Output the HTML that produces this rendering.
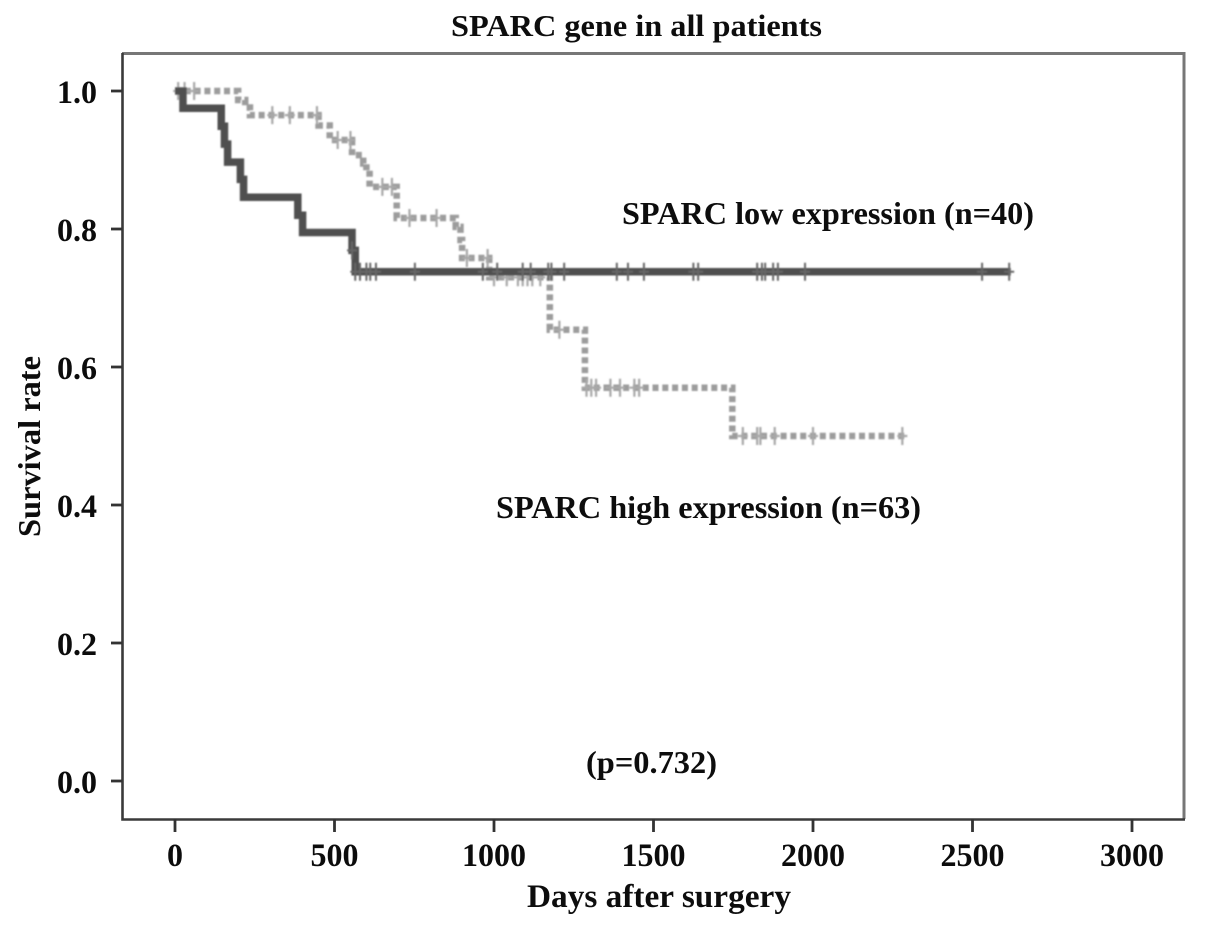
<!DOCTYPE html>
<html lang="en">
<head>
<meta charset="utf-8">
<title>SPARC gene in all patients</title>
<style>
html,body{margin:0;padding:0;background:#fff;}
svg{display:block;}
text{font-family:"Liberation Serif",serif;font-weight:bold;fill:#0c0c0c;}
</style>
</head>
<body>
<svg id="chart" width="1205" height="927" viewBox="0 0 1205 927" xmlns="http://www.w3.org/2000/svg">
<defs>
<filter id="soft" x="-5%" y="-5%" width="110%" height="110%"><feGaussianBlur stdDeviation="0.9"/></filter>
<filter id="softText" x="-5%" y="-5%" width="110%" height="110%"><feGaussianBlur stdDeviation="0.3"/></filter>
</defs>
<rect x="0" y="0" width="1205" height="927" fill="#fff"/>
<path d="M122 53.5H1184V819" fill="none" stroke="#777" stroke-width="3"/>
<path d="M122.5 53V819.5H1185" fill="none" stroke="#3a3a3a" stroke-width="2.6"/>
<g id="axes"></g>
<g id="marks" filter="url(#soft)"></g>
<g filter="url(#softText)">
<text x="451" y="36" font-size="31" textLength="371" lengthAdjust="spacingAndGlyphs">SPARC gene in all patients</text>
<text transform="translate(40,537) rotate(-90)" font-size="32" textLength="181" lengthAdjust="spacingAndGlyphs">Survival rate</text>
<text x="527" y="907" font-size="33" textLength="264" lengthAdjust="spacingAndGlyphs">Days after surgery</text>
<text x="622" y="224" font-size="32" textLength="412" lengthAdjust="spacingAndGlyphs">SPARC low expression (n=40)</text>
<text x="496" y="518" font-size="32" textLength="425" lengthAdjust="spacingAndGlyphs">SPARC high expression (n=63)</text>
<text x="586" y="773" font-size="32" textLength="131" lengthAdjust="spacingAndGlyphs">(p=0.732)</text>
</g>
</svg>
<script>
const xTicks = [0, 500, 1000, 1500, 2000, 2500, 3000];
const yTicks = [0, 0.2, 0.4, 0.6, 0.8, 1.0];

const darkTimes = [25, 145, 155, 165, 205, 215, 385, 400, 555, 565];
const darkSurvival = [0.975, 0.949, 0.923, 0.897, 0.872, 0.846, 0.82, 0.795, 0.769, 0.738];
const darkEnd = 2620;
const darkCensored = [555, 565, 580, 600, 612, 630, 752, 965, 1010, 1090, 1115, 1170, 1180, 1220, 1385, 1420, 1470, 1625, 1640, 1825, 1840, 1850, 1875, 1890, 1975, 2530, 2615];

const lightTimes = [198, 220, 235, 450, 485, 555, 590, 600, 610, 695, 880, 895, 900, 985, 1175, 1285, 1747];
const lightSurvival = [0.987, 0.976, 0.965, 0.95, 0.929, 0.907, 0.895, 0.885, 0.861, 0.816, 0.803, 0.784, 0.758, 0.73, 0.654, 0.57, 0.5];
const lightEnd = 2290;
const lightCensored = [10, 30, 60, 305, 360, 445, 510, 550, 650, 680, 735, 820, 915, 980, 1000, 1040, 1075, 1090, 1105, 1120, 1145, 1205, 1290, 1305, 1320, 1365, 1395, 1440, 1455, 1780, 1825, 1835, 1880, 2000, 2280];

const svgNS = 'http://www.w3.org/2000/svg';
const xPos = d => 175 + d * 0.319;
const yPos = s => 781 - s * 690;
const axes = document.getElementById('axes');
const marks = document.getElementById('marks');

function make(tag, attrs, parent) {
  const el = document.createElementNS(svgNS, tag);
  for (const k in attrs) el.setAttribute(k, attrs[k]);
  parent.appendChild(el);
  return el;
}

xTicks.forEach(v => {
  const t = make('line', {x1: xPos(v), x2: xPos(v), y1: 819, y2: 832, stroke: '#333', 'stroke-width': 2.8}, axes);
  
  
  const l = make('text', {x: xPos(v), y: 866, 'font-size': 33, 'text-anchor': 'middle', textLength: String(v).length * 16, lengthAdjust: 'spacingAndGlyphs'}, axes);
  
  
  l.textContent = v;
});
yTicks.forEach(v => {
  const t = make('line', {x1: 111, x2: 122, y1: yPos(v), y2: yPos(v), stroke: '#333', 'stroke-width': 2.8}, axes);
  
  
  const l = make('text', {x: 57, y: yPos(v) + 12, 'font-size': 33, textLength: 40, lengthAdjust: 'spacingAndGlyphs'}, axes);
  
  
  l.textContent = v.toFixed(1);
});

function survivalAt(times, survival, d) {
  let s = 1;
  times.forEach((t, i) => { if (d >= t) s = survival[i]; });
  return s;
}
function stepPath(times, survival, end) {
  let p = 'M' + xPos(0) + ' ' + yPos(1);
  times.forEach((t, i) => {
    p += 'H' + xPos(t) + 'V' + yPos(survival[i]);
  });
  return p + 'H' + xPos(end);
}
function censorMarks(list, times, survival, color, width, name) {
  list.forEach(d => {
    const y = yPos(survivalAt(times, survival, d));
    const x = xPos(d);
    const c = make('path', {d: 'M' + x + ' ' + (y - 9) + 'V' + (y + 9) + 'M' + (x - 5) + ' ' + y + 'H' + (x + 5), stroke: color, 'stroke-width': width, fill: 'none'}, marks);
    
    
  });
}

const lightLine = make('path', {d: stepPath(lightTimes, lightSurvival, lightEnd), fill: 'none', stroke: '#9c9c9c', 'stroke-width': 6.5, 'stroke-dasharray': '6 3.8'}, marks);


censorMarks(lightCensored, lightTimes, lightSurvival, '#a8a8a8', 2.2, 'high-expression-censor-mark');

const darkLine = make('path', {d: stepPath(darkTimes, darkSurvival, darkEnd), fill: 'none', stroke: '#4f4f4f', 'stroke-width': 7.5}, marks);


censorMarks(darkCensored, darkTimes, darkSurvival, '#666', 2, 'low-expression-censor-mark');
</script>
</body>
</html>
